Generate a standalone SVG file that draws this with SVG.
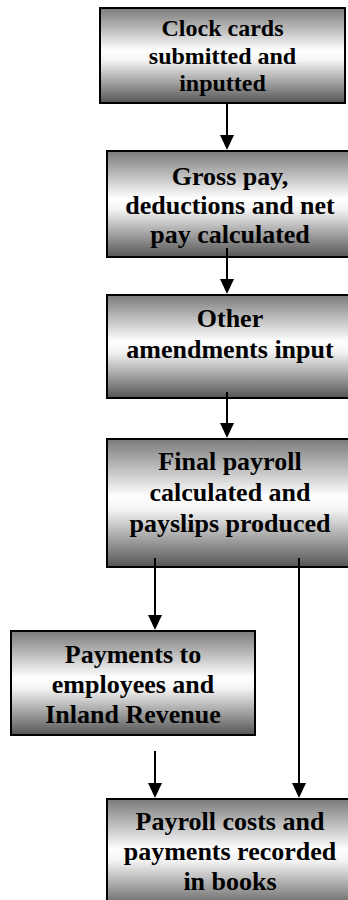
<svg xmlns="http://www.w3.org/2000/svg" width="348" height="900" viewBox="0 0 348 900">
<defs>
<linearGradient id="g" x1="0" y1="0" x2="0" y2="1">
<stop offset="0" stop-color="#7a7a7a"/>
<stop offset="0.45" stop-color="#ffffff"/>
<stop offset="0.55" stop-color="#f4f4f4"/>
<stop offset="1" stop-color="#555555"/>
</linearGradient>
<style>
.box{fill:url(#g);stroke:#000;stroke-width:2}
.t{font-family:"Liberation Serif","Times New Roman",serif;font-weight:bold;font-size:26px;fill:#000;text-anchor:middle}
.t1{font-size:24px}
.c{stroke:#000;stroke-width:2;fill:none}
.h{fill:#000}
</style>
</defs>
<rect width="348" height="900" fill="#fff"/>
<g id="n1">
<rect class="box" x="100" y="8" width="245" height="95"/>
<text class="t t1" x="222.5" y="36">Clock cards</text>
<text class="t t1" x="222.5" y="64">submitted and</text>
<text class="t t1" x="222.5" y="91">inputted</text>
</g>
<g id="n2">
<rect class="box" x="107" y="151" width="246" height="106"/>
<text class="t" x="230" y="185">Gross pay,</text>
<text class="t" x="230" y="214">deductions and net</text>
<text class="t" x="230" y="243">pay calculated</text>
</g>
<g id="n3">
<rect class="box" x="107" y="295" width="246" height="103"/>
<text class="t" x="230" y="327">Other</text>
<text class="t" x="230" y="358">amendments input</text>
</g>
<g id="n4">
<rect class="box" x="107" y="439" width="246" height="128"/>
<text class="t" x="230" y="470">Final payroll</text>
<text class="t" x="230" y="501">calculated and</text>
<text class="t" x="230" y="532">payslips produced</text>
</g>
<g id="n5">
<rect class="box" x="11" y="631" width="244" height="104"/>
<text class="t" x="133" y="663">Payments to</text>
<text class="t" x="133" y="693">employees and</text>
<text class="t" x="133" y="723">Inland Revenue</text>
</g>
<g id="n6">
<rect class="box" x="107" y="799" width="246" height="112"/>
<text class="t" x="230" y="830">Payroll costs and</text>
<text class="t" x="230" y="860">payments recorded</text>
<text class="t" x="230" y="890">in books</text>
</g>
<g id="connectors">
<line class="c" x1="227" y1="103" x2="227" y2="136"/><path class="h" d="M220,135 L234,135 L227,150 Z"/>
<line class="c" x1="227" y1="248" x2="227" y2="280"/><path class="h" d="M220,279 L234,279 L227,294 Z"/>
<line class="c" x1="227" y1="392" x2="227" y2="424"/><path class="h" d="M220,423 L234,423 L227,438 Z"/>
<line class="c" x1="155" y1="558" x2="155" y2="616"/><path class="h" d="M148,615 L162,615 L155,630 Z"/>
<line class="c" x1="299" y1="558" x2="299" y2="784"/><path class="h" d="M292,783 L306,783 L299,798 Z"/>
<line class="c" x1="155" y1="751" x2="155" y2="784"/><path class="h" d="M148,783 L162,783 L155,798 Z"/>
</g>
</svg>
